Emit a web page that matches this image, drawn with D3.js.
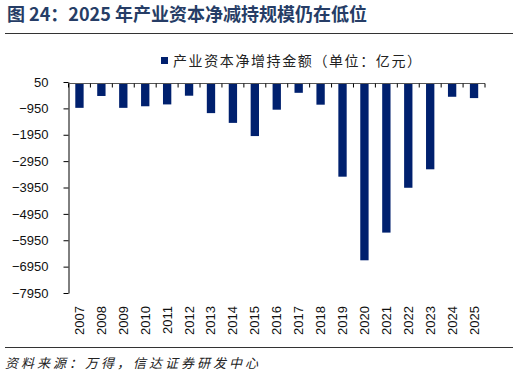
<!DOCTYPE html>
<html>
<head>
<meta charset="utf-8">
<script src="https://cdn.jsdelivr.net/npm/d3@7"></script>
<style>
  body { margin: 0; background: #fff; }
  svg { display: block; }
</style>
</head>
<body>
<div id="chart"></div>
<script>
// chart data
const years = ["2007","2008","2009","2010","2011","2012","2013","2014","2015","2016",
               "2017","2018","2019","2020","2021","2022","2023","2024","2025"];
const netAmount = [-930, -480, -930, -870, -800, -470, -1130, -1500, -2000, -1000,
                   -360, -810, -3540, -6710, -5660, -3960, -3260, -510, -560];
const yTicks = [50, -950, -1950, -2950, -3950, -4950, -5950, -6950, -7950];

const titleText = "图 24：2025 年产业资本净减持规模仍在低位";
const legendText = "产业资本净增持金额（单位：亿元）";
const sourceText = "资料来源：万得，信达证券研发中心";

const width = 519, height = 378;
const plot = { left: 68.5, right: 485, top: 82, bottom: 293 };
const navy = "#00206e";

const svg = d3.select("#chart").append("svg")
    .attr("width", width)
    .attr("height", height);

// title + rules
svg.append("text")
    .attr("x", 7).attr("y", 21)
    .attr("font-family", "'Noto Sans CJK SC', sans-serif")
    .attr("font-size", 18).attr("font-weight", "bold")
    .attr("fill", "#263d66")
    .text(titleText);

svg.append("line")
    .attr("x1", 5).attr("x2", 513).attr("y1", 33.5).attr("y2", 33.5)
    .attr("stroke", "#333").attr("stroke-width", 1);

svg.append("line")
    .attr("x1", 5).attr("x2", 513).attr("y1", 347.5).attr("y2", 347.5)
    .attr("stroke", "#333").attr("stroke-width", 1);

svg.append("text")
    .attr("x", 5).attr("y", 368)
    .attr("font-family", "'Noto Sans CJK SC', sans-serif")
    .attr("font-size", 13).attr("font-style", "italic")
    .attr("letter-spacing", 3)
    .attr("fill", "#222")
    .text(sourceText);

// legend
svg.append("rect")
    .attr("x", 161).attr("y", 57).attr("width", 7).attr("height", 7)
    .attr("fill", navy);
svg.append("text")
    .attr("x", 173).attr("y", 66)
    .attr("font-family", "'Noto Sans CJK SC', sans-serif")
    .attr("font-size", 14).attr("letter-spacing", 1.6)
    .attr("fill", "#222")
    .text(legendText);

// scales
const x = d3.scaleBand()
    .domain(years)
    .range([plot.left, plot.right])
    .paddingInner(0.62)
    .paddingOuter(0.31);

const y = d3.scaleLinear()
    .domain([50, -7950])
    .range([plot.top, plot.bottom]);

// bars
svg.append("g")
  .selectAll("rect")
  .data(years)
  .join("rect")
    .attr("x", d => x(d))
    .attr("width", x.bandwidth())
    .attr("y", y(0))
    .attr("height", (d, i) => y(netAmount[i]) - y(0))
    .attr("fill", navy);

// y axis
const yAxis = svg.append("g")
    .attr("transform", `translate(${plot.left},0)`)
    .call(d3.axisLeft(y).tickValues(yTicks).tickFormat(d3.format("d"))
        .tickSize(5).tickPadding(15).tickSizeOuter(0));
yAxis.select(".domain").attr("stroke", "#000");
yAxis.selectAll("text")
    .attr("font-family", "'Liberation Sans', Arial, sans-serif")
    .attr("font-size", 13)
    .attr("fill", "#111");

// x axis line along zero, boundary ticks hanging down
const y0 = Math.round(y(0)) + 0.5;
svg.append("line")
    .attr("x1", plot.left).attr("x2", plot.right)
    .attr("y1", y0).attr("y2", y0)
    .attr("stroke", "#555").attr("stroke-width", 1.2);

const step = x.step();
svg.append("g")
  .selectAll("line")
  .data(d3.range(years.length + 1))
  .join("line")
    .attr("x1", i => plot.left + i * step)
    .attr("x2", i => plot.left + i * step)
    .attr("y1", y0).attr("y2", y0 + 4)
    .attr("stroke", "#000");

// x labels, rotated
svg.append("g")
  .selectAll("text")
  .data(years)
  .join("text")
    .attr("transform", d => `translate(${x(d) + x.bandwidth() / 2 + 4.5},306) rotate(-90)`)
    .attr("text-anchor", "end")
    .attr("font-family", "'Liberation Sans', Arial, sans-serif")
    .attr("font-size", 13)
    .attr("fill", "#111")
    .text(d => d);
</script>
</body>
</html>
